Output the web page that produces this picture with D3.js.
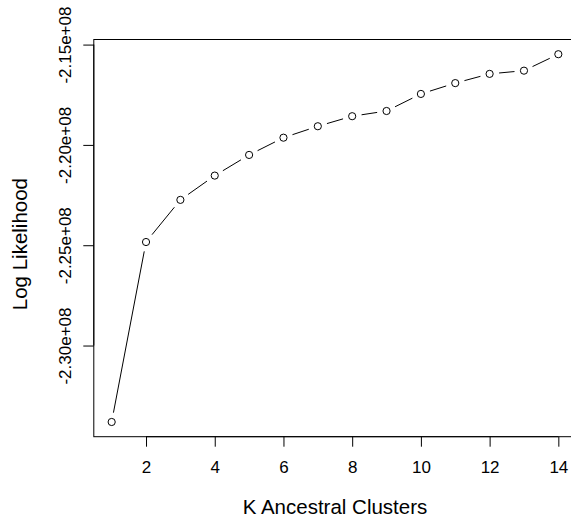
<!DOCTYPE html>
<html>
<head>
<meta charset="utf-8">
<script src="https://cdn.jsdelivr.net/npm/d3@7"></script>
<style>
  html, body { margin: 0; padding: 0; background: #fff; }
  svg { display: block; }
  text { font-family: "Liberation Sans", Arial, Helvetica, sans-serif; fill: #000; }
</style>
</head>
<body>
<svg id="chart" width="571" height="521"></svg>
<script>
// ---- Data ----
const kValues = [1, 2, 3, 4, 5, 6, 7, 8, 9, 10, 11, 12, 13, 14];
const logLikelihood = [
  -2.3381e8, -2.2484e8, -2.2274e8, -2.2153e8, -2.2050e8, -2.1964e8, -2.1907e8,
  -2.1857e8, -2.1831e8, -2.1746e8, -2.1692e8, -2.1646e8, -2.1630e8, -2.1548e8
];
const xTicks = [2, 4, 6, 8, 10, 12, 14];
const yTicks = [-2.15e8, -2.20e8, -2.25e8, -2.30e8];
const yTickLabels = ["-2.15e+08", "-2.20e+08", "-2.25e+08", "-2.30e+08"];
const xTitle = "K Ancestral Clusters";
const yTitle = "Log Likelihood";

// ---- Layout ----
const plot = { left: 93.8, right: 576.2, top: 39.5, bottom: 436.7 };
const svg = d3.select("#chart");

function padDomain(lo, hi) {
  const r = hi - lo;
  return [lo - 0.04 * r, hi + 0.04 * r];
}

const x = d3.scaleLinear()
  .domain(padDomain(d3.min(kValues), d3.max(kValues)))
  .range([plot.left, plot.right]);
const y = d3.scaleLinear()
  .domain(padDomain(d3.min(logLikelihood), d3.max(logLikelihood)))
  .range([plot.bottom, plot.top]);

// Box
svg.append("rect")
  .attr("x", plot.left).attr("y", plot.top)
  .attr("width", plot.right - plot.left).attr("height", plot.bottom - plot.top)
  .attr("fill", "none").attr("stroke", "#000").attr("stroke-width", 1);

// X axis
const xAxis = d3.axisBottom(x).tickValues(xTicks).tickSize(10).tickPadding(14)
  .tickFormat(d3.format("d"));
const gx = svg.append("g").attr("transform", `translate(0,${plot.bottom})`).call(xAxis);
gx.select(".domain").attr("d", `M${x(xTicks[0])},0H${x(xTicks[xTicks.length - 1])}`)
  .attr("stroke", "#000");
gx.selectAll(".tick line").attr("stroke", "#000");
gx.selectAll(".tick text").attr("font-size", 17).attr("dy", "0.71em")
  .style("font-family", '"Liberation Sans", Arial, sans-serif').attr("fill", "#000");

// Y axis
const yAxis = d3.axisLeft(y).tickValues(yTicks).tickSize(10.5)
  .tickFormat((d, i) => yTickLabels[i]);
const gy = svg.append("g").attr("transform", `translate(${plot.left},0)`).call(yAxis);
gy.select(".domain").attr("d", `M0,${y(yTicks[0])}V${y(yTicks[yTicks.length - 1])}`)
  .attr("stroke", "#000");
gy.selectAll(".tick line").attr("stroke", "#000");
gy.selectAll(".tick text")
  .attr("x", null).attr("dy", null)
  .attr("text-anchor", "middle")
  .attr("transform", "translate(-23.3,0) rotate(-90)")
  .attr("font-size", 17)
  .style("font-family", '"Liberation Sans", Arial, sans-serif').attr("fill", "#000");

// Line segments with gaps (type = "b")
const pts = kValues.map((k, i) => [x(k), y(logLikelihood[i])]);
const gap = 9.5;
const segs = d3.pairs(pts).map(([a, b]) => {
  const dx = b[0] - a[0], dy = b[1] - a[1];
  const L = Math.hypot(dx, dy);
  const ux = dx / L, uy = dy / L;
  return [a[0] + ux * gap, a[1] + uy * gap, b[0] - ux * gap, b[1] - uy * gap];
});
svg.append("g").selectAll("line").data(segs).join("line")
  .attr("x1", d => d[0]).attr("y1", d => d[1])
  .attr("x2", d => d[2]).attr("y2", d => d[3])
  .attr("stroke", "#000").attr("stroke-width", 1);

svg.append("g").selectAll("circle").data(kValues).join("circle")
  .attr("cx", d => x(d))
  .attr("cy", (d, i) => y(logLikelihood[i]))
  .attr("r", 3.6)
  .attr("fill", "none").attr("stroke", "#000").attr("stroke-width", 1);

// Titles
svg.append("text")
  .attr("x", (plot.left + plot.right) / 2).attr("y", 514)
  .attr("text-anchor", "middle").attr("font-size", 20.5)
  .text(xTitle);
svg.append("text")
  .attr("transform", `translate(27.3,${(plot.top + plot.bottom) / 2 + 6}) rotate(-90)`)
  .attr("text-anchor", "middle").attr("font-size", 20.5)
  .text(yTitle);
</script>
</body>
</html>
